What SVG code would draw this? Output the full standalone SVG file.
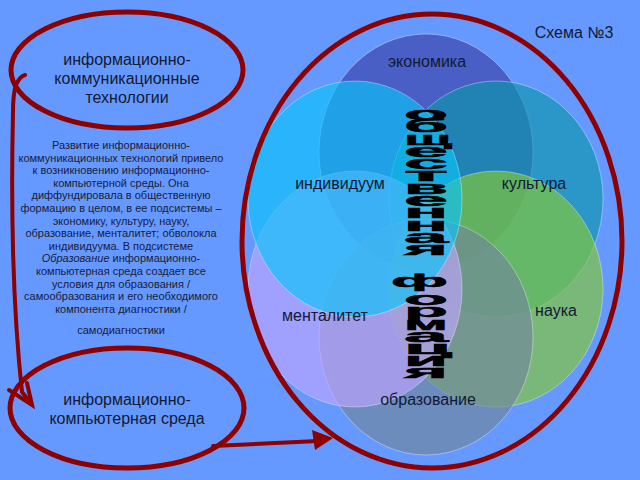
<svg xmlns="http://www.w3.org/2000/svg" width="640" height="480" viewBox="0 0 640 480">
<defs>
<style>
.bg{fill:#6699ff}
.ring{fill:none;stroke:#8e0000;stroke-width:5}
.conn{fill:none;stroke:#8e0000;stroke-width:4;stroke-linecap:round}
.c{stroke:#ffffff;stroke-opacity:0.35;stroke-width:1;fill-opacity:0.65}
.lbl{font-family:"Liberation Sans",Arial,sans-serif;font-size:16px;fill:#111a33;text-anchor:middle}
.para{font-family:"Liberation Sans",Arial,sans-serif;font-size:11px;fill:#18203a;text-anchor:middle}
.v{font-family:"Liberation Sans",Arial,sans-serif;font-size:18px;font-weight:bold;fill:#000000;stroke:#000000;stroke-width:0.5}
</style>
</defs>
<rect class="bg" x="0" y="0" width="640" height="480"/>

<g id="venn">
<ellipse id="c-economy" class="c" cx="426" cy="152" rx="107" ry="118" fill="#3b41a7"/>
<ellipse id="c-culture" class="c" cx="496" cy="199" rx="107" ry="118" fill="#0a97aa"/>
<ellipse id="c-science" class="c" cx="496" cy="289" rx="107" ry="118" fill="#85ca32"/>
<ellipse id="c-educ" class="c" cx="426" cy="337" rx="107" ry="118" fill="#72859b"/>
<ellipse id="c-mental" class="c" cx="355" cy="289" rx="107" ry="118" fill="#bfa4ff"/>
<ellipse id="c-individ" class="c" cx="355" cy="199" rx="107" ry="118" fill="#0ac3f9"/>
</g>

<g id="labels">
<text class="lbl" x="427" y="67">экономика</text>
<text class="lbl" x="340" y="189">индивидуум</text>
<text class="lbl" x="534" y="189">культура</text>
<text class="lbl" x="556" y="316">наука</text>
<text class="lbl" x="325" y="321">менталитет</text>
<text class="lbl" x="428" y="405">образование</text>
</g>

<g id="vertical-title">
<text class="v"><tspan x="404" y="120" textLength="44" lengthAdjust="spacingAndGlyphs">о</tspan><tspan x="404" y="132" textLength="44" lengthAdjust="spacingAndGlyphs">б</tspan><tspan x="404" y="145" textLength="48" lengthAdjust="spacingAndGlyphs">щ</tspan><tspan x="404" y="157" textLength="44" lengthAdjust="spacingAndGlyphs">е</tspan><tspan x="404" y="169" textLength="44" lengthAdjust="spacingAndGlyphs">с</tspan><tspan x="404" y="181" textLength="44" lengthAdjust="spacingAndGlyphs">т</tspan><tspan x="404" y="194" textLength="44" lengthAdjust="spacingAndGlyphs">в</tspan><tspan x="404" y="206" textLength="44" lengthAdjust="spacingAndGlyphs">е</tspan><tspan x="404" y="218" textLength="44" lengthAdjust="spacingAndGlyphs">н</tspan><tspan x="404" y="231" textLength="44" lengthAdjust="spacingAndGlyphs">н</tspan><tspan x="404" y="243" textLength="44" lengthAdjust="spacingAndGlyphs">а</tspan><tspan x="404" y="255" textLength="44" lengthAdjust="spacingAndGlyphs">я</tspan><tspan x="391" y="287" textLength="57" lengthAdjust="spacingAndGlyphs">ф</tspan><tspan x="404" y="305" textLength="44" lengthAdjust="spacingAndGlyphs">о</tspan><tspan x="404" y="317" textLength="44" lengthAdjust="spacingAndGlyphs">р</tspan><tspan x="404" y="330" textLength="44" lengthAdjust="spacingAndGlyphs">м</tspan><tspan x="404" y="342" textLength="44" lengthAdjust="spacingAndGlyphs">а</tspan><tspan x="404" y="354" textLength="48" lengthAdjust="spacingAndGlyphs">ц</tspan><tspan x="404" y="366" textLength="44" lengthAdjust="spacingAndGlyphs">и</tspan><tspan x="404" y="378" textLength="44" lengthAdjust="spacingAndGlyphs">я</tspan></text>
</g>

<g id="social-formation">
<ellipse class="ring" cx="432" cy="241" rx="190" ry="227"/>
</g>

<g id="ict">
<ellipse class="ring" cx="127" cy="70" rx="116" ry="58"/>
<text class="lbl" x="127" y="65">информационно-</text>
<text class="lbl" x="127" y="84">коммуникационные</text>
<text class="lbl" x="127" y="103">технологии</text>
</g>

<g id="ics">
<ellipse class="ring" cx="127" cy="408" rx="117" ry="60"/>
<text class="lbl" x="127" y="405">информационно-</text>
<text class="lbl" x="127" y="424">компьютерная среда</text>
</g>

<g id="scheme-title">
<text class="lbl" x="574" y="38">Схема №3</text>
</g>

<g id="description">
<text class="para" x="121" y="149">Развитие информационно-</text>
<text class="para" x="121" y="161.6">коммуникационных технологий привело</text>
<text class="para" x="121" y="174.2">к возникновению информационно-</text>
<text class="para" x="121" y="186.8">компьютерной среды. Она</text>
<text class="para" x="121" y="199.4">диффундировала в общественную</text>
<text class="para" x="121" y="212">формацию в целом, в ее подсистемы –</text>
<text class="para" x="121" y="224.6">экономику, культуру, науку,</text>
<text class="para" x="121" y="237.2">образование, менталитет; обволокла</text>
<text class="para" x="121" y="249.8">индивидуума. В подсистеме</text>
<text class="para" x="121" y="262.4"><tspan font-style="italic">Образование</tspan> информационно-</text>
<text class="para" x="121" y="275">компьютерная среда создает все</text>
<text class="para" x="121" y="287.6">условия для образования /</text>
<text class="para" x="121" y="300.2">самообразования и его необходимого</text>
<text class="para" x="121" y="312.8">компонента диагностики /</text>
<text class="para" x="121" y="334">самодиагностики</text>
</g>

<g id="connectors">
<path class="conn" d="M 25 75 C 16 78 13 90 13 112 C 11 200 12 300 22 392 L 30 402"/>
<path class="conn" d="M 9 390 L 32 405 L 27 383" stroke-linejoin="miter"/>
<path class="conn" d="M 213 446 L 318 441"/>
<polygon points="333,438 312,430 315,450" fill="#8e0000"/>
</g>
</svg>
